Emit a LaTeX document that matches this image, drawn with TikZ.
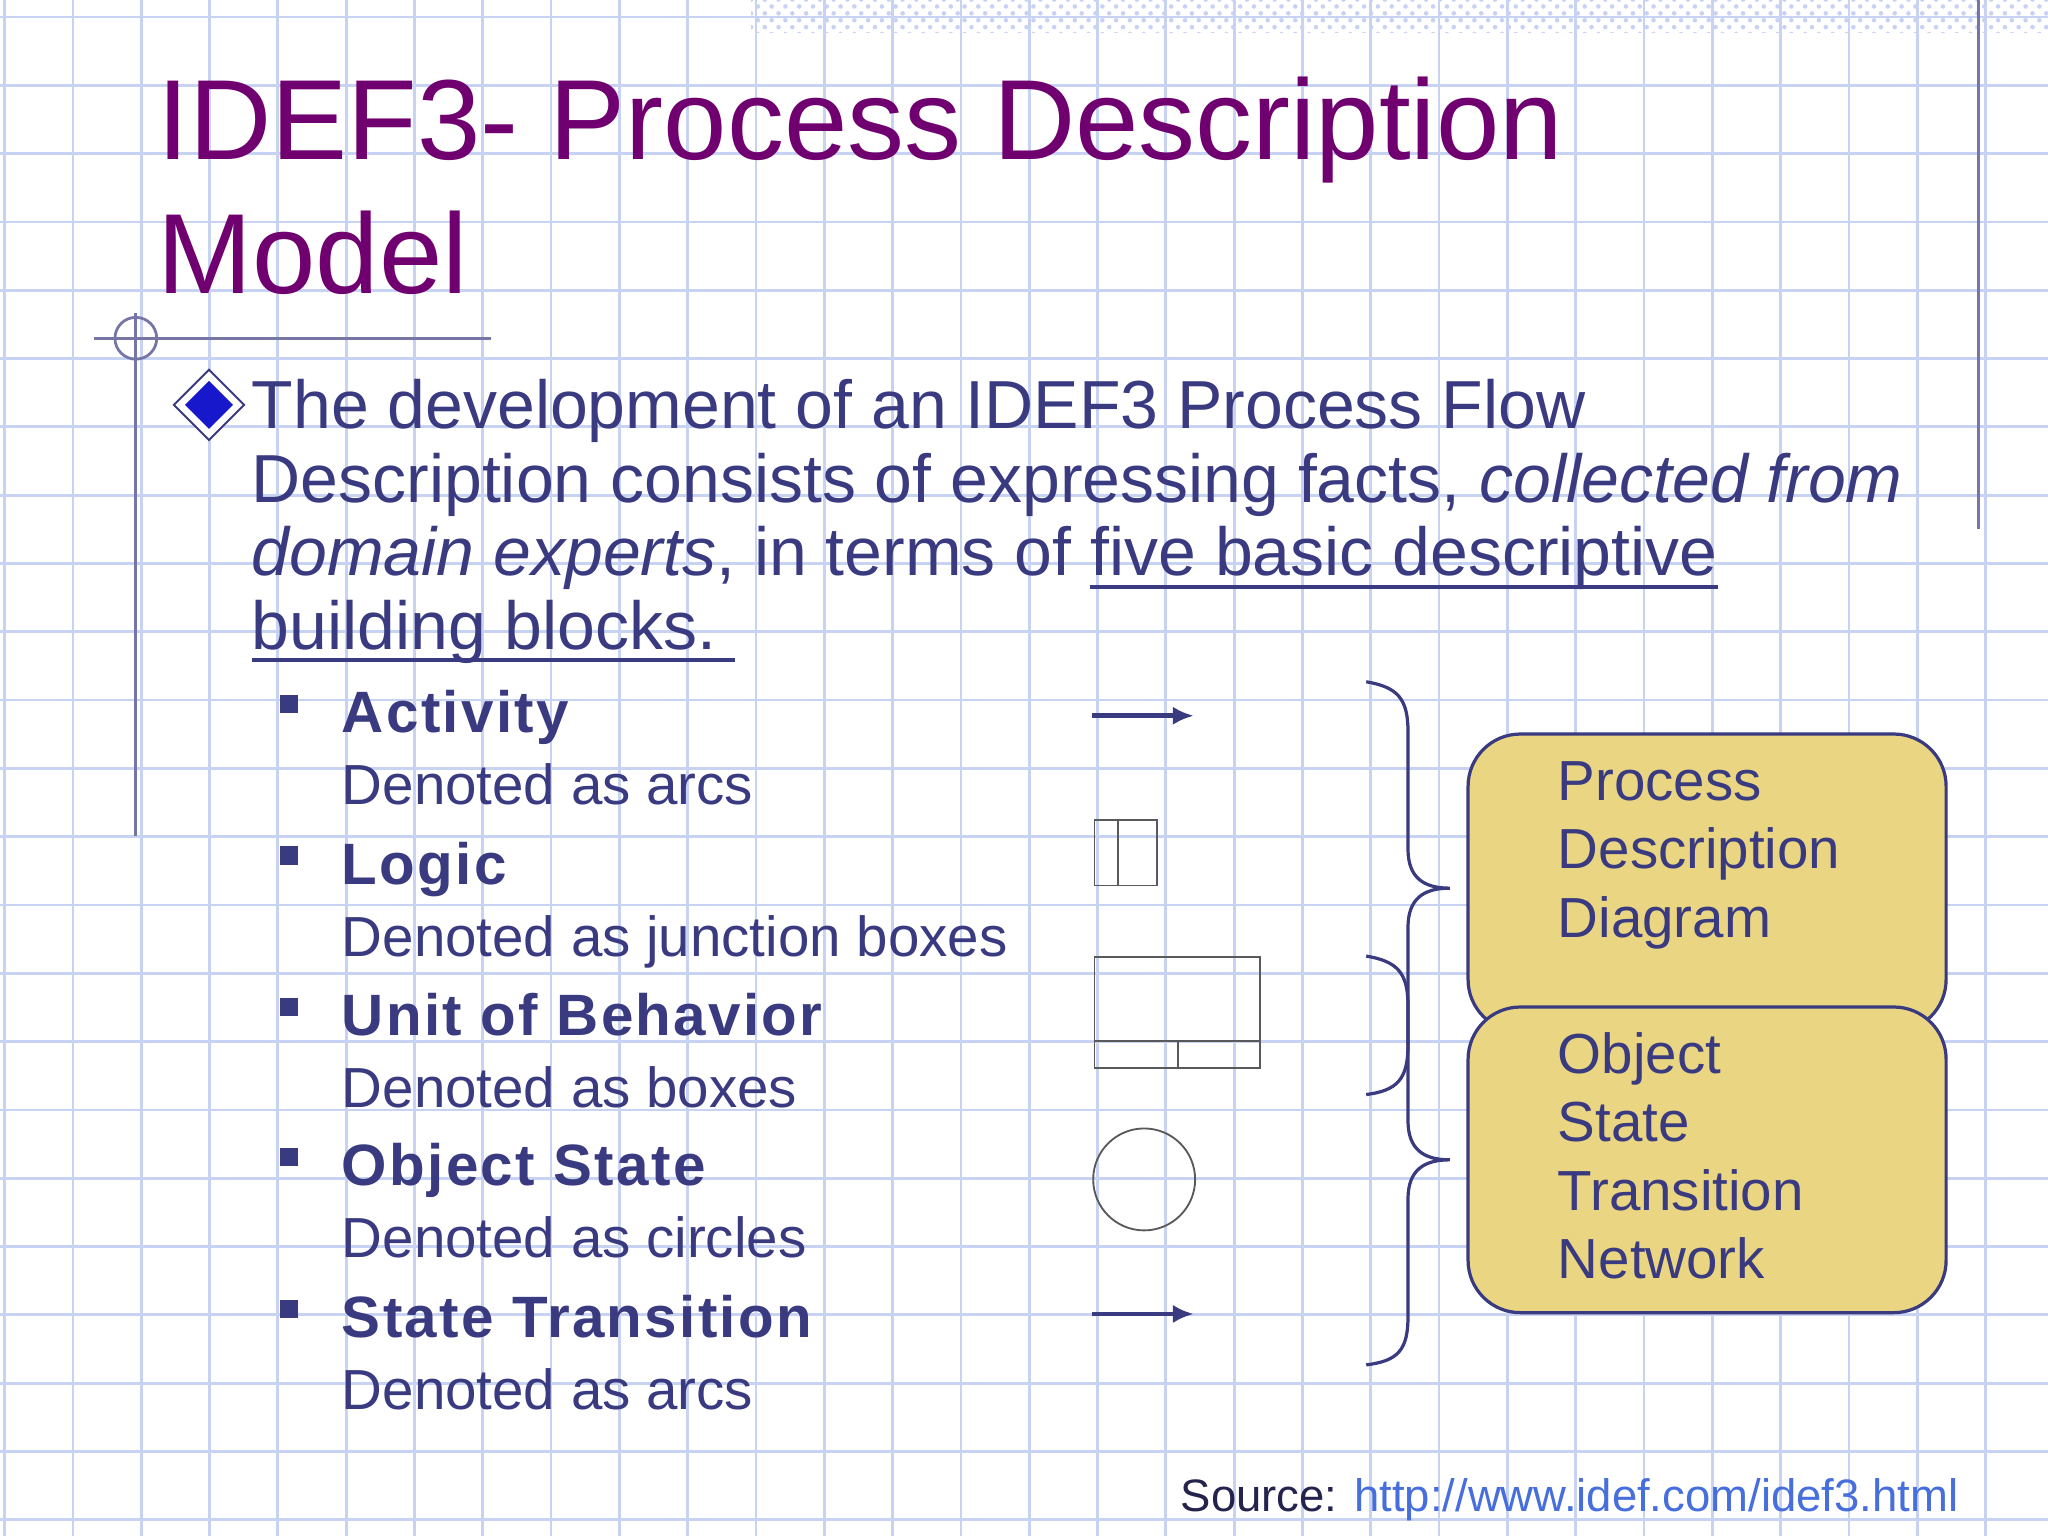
\documentclass[tikz,border=0pt]{standalone}
\usepackage{fontspec}
\setmainfont{Liberation Sans}
\newfontfamily\itemfont[LetterSpace=4]{Liberation Sans}
\newcommand\myul[1]{\setbox0=\hbox{#1}\rlap{\rule[-2.8pt]{\wd0}{0.9pt}}\box0}
\usetikzlibrary{patterns,arrows.meta}
\definecolor{gridc}{RGB}{200,210,242}
\definecolor{ttl}{RGB}{112,0,112}
\definecolor{txt}{RGB}{58,58,128}
\definecolor{boxf}{RGB}{234,214,130}
\definecolor{lnk}{RGB}{70,110,220}
\tikzset{
  body/.style={anchor=base west,inner sep=0pt,text=txt,font=\fontsize{14.8}{16}\selectfont},
  item/.style={anchor=base west,inner sep=0pt,text=txt,font=\itemfont\fontsize{12.7}{15}\selectfont\bfseries},
  sub/.style={anchor=base west,inner sep=0pt,text=txt,font=\fontsize{12.3}{15}\selectfont},
  sq/.style={fill=txt,minimum size=0.14cm,inner sep=0pt},
  sym/.style={draw=gray!70!black,line width=0.4pt},
  ybox/.style={draw=txt,fill=boxf,rounded corners=0.4cm,line width=0.7pt},
  brc/.style={draw=txt,line width=0.7pt},
  arr/.style={draw=txt,line width=1pt,-{Latex[length=0.16cm,width=0.14cm]}}
}
\begin{document}
\begin{tikzpicture}[x=0.01cm,y=-0.01cm]
\useasboundingbox (0,0) rectangle (1568,1176);
\fill[white] (0,0) rectangle (1568,1176);
\foreach \i in {0,...,30} \draw[gridc,line width=0.6pt] (3.5+52.3*\i,0) -- (3.5+52.3*\i,1176);
\foreach \i in {0,...,23} \draw[gridc,line width=0.6pt] (0,13+52.3*\i) -- (1568,13+52.3*\i);
\fill[pattern=crosshatch dots,pattern color=gridc] (575,0) rectangle (1568,25);
\draw[txt!70,line width=0.6pt] (1515,0) -- (1515,405);
\draw[txt!70,line width=0.6pt] (72,259) -- (376,259);
\draw[txt!70,line width=0.6pt] (104,240) -- (104,640);
\draw[txt!70,line width=0.6pt] (104,259) circle[radius=16];
% title
\node[anchor=base west,inner sep=0pt,text=ttl,font=\fontsize{24.8}{29}\selectfont] (t1) at (120,122) {IDEF3- Process Description};
\node[anchor=base west,inner sep=0pt,text=ttl,font=\fontsize{24.8}{29}\selectfont] (t2) at (120,225) {Model};
% diamond bullet
\node[draw=txt,fill=white,rectangle,rotate=45,minimum size=0.38cm,inner sep=0pt] (dm) at (160,310) {};
\node[fill=txt!40!blue,rectangle,rotate=45,minimum size=0.26cm,inner sep=0pt] (dm2) at (160,310) {};
\node[body] (b1) at (192,328) {The development of an IDEF3 Process Flow};
\node[body] (b2) at (192,385) {Description consists of expressing facts, \textit{collected from}};
\node[body] (b3) at (192,441) {\textit{domain experts}, in terms of \myul{five basic descriptive}};
\node[body] (b4) at (192,497) {\myul{building blocks.\ }};
% items
\foreach \y/\h/\s [count=\k] in {561/Activity/Denoted as arcs,677/Logic/Denoted as junction boxes,793/Unit of Behavior/Denoted as boxes,908/Object State/Denoted as circles,1024/State Transition/Denoted as arcs}{
  \node[sq] (q\k) at (221,\y-22) {};
  \node[item] (h\k) at (261,\y) {\h};
  \node[sub] (s\k) at (261,\y+55) {\s};
}
% symbols
\coordinate (a1s) at (836,548); \coordinate (a1e) at (914,548);
\draw[arr] (a1s) -- (a1e);
\coordinate (a2s) at (836,1006); \coordinate (a2e) at (914,1006);
\draw[arr] (a2s) -- (a2e);
\draw[sym] (838,628) rectangle (886,678);
\draw[sym] (856,628) -- (856,678);
\draw[sym] (838,733) rectangle (965,818);
\draw[sym] (838,797) -- (965,797);
\draw[sym] (902,797) -- (902,818);
\node[sym,draw,circle,minimum size=0.78cm,inner sep=0pt] (circ) at (876,903) {};
% braces
\draw[brc] (1046,522) .. controls (1070,526) and (1078,535) .. (1078,560) -- (1078,650) .. controls (1078,672) and (1090,680) .. (1110,680) .. controls (1090,680) and (1078,688) .. (1078,710) -- (1078,800) .. controls (1078,826) and (1070,835) .. (1046,838);
\draw[brc] (1046,732) .. controls (1070,736) and (1078,745) .. (1078,770) -- (1078,858) .. controls (1078,880) and (1090,888) .. (1110,888) .. controls (1090,888) and (1078,896) .. (1078,918) -- (1078,1008) .. controls (1078,1034) and (1070,1042) .. (1046,1045);
% boxes
\draw[ybox] (1124,562) rectangle (1490,790);
\draw[ybox] (1124,771) rectangle (1490,1005);
\foreach \y/\t in {613/Process,665/Description,718/Diagram,822/Object,874/State,927/Transition,979/Network}
  \node[sub] at (1192,\y) {\t};
\node[anchor=base east,inner sep=0pt,font=\fontsize{9.9}{11}\selectfont] (src) at (1500,1157) {\textcolor{txt!60!black}{Source:} \textcolor{lnk}{http://www.idef.com/idef3.html}};
\end{tikzpicture}
\end{document}
